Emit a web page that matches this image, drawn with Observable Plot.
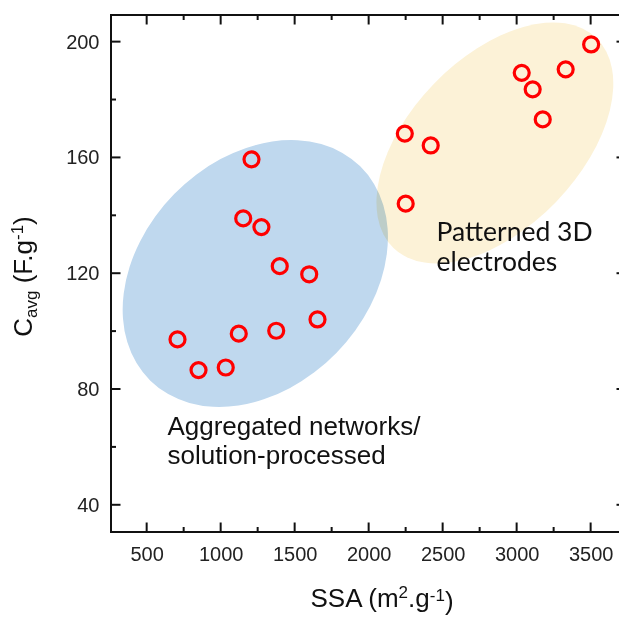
<!DOCTYPE html>
<html>
<head>
<meta charset="utf-8">
<script src="https://cdn.jsdelivr.net/npm/d3@7"></script>
<script src="https://cdn.jsdelivr.net/npm/@observablehq/plot@0.6"></script>
<style>
  html, body { margin: 0; padding: 0; background: #fff; }
  #chart svg { display: block; }
</style>
</head>
<body>
<div id="chart"></div>
<script>
// ---- data ----
const aggregatedSSA = [1205, 1149, 1272, 1396, 1595, 1651, 1372, 1119, 705, 847, 1031];
const aggregatedCap = [159.5, 139.1, 136.1, 122.6, 119.8, 104.2, 100.3, 99.3, 97.3, 86.7, 87.6];
const patternedSSA = [3500, 3328, 3031, 3105, 3173, 2241, 2416, 2247];
const patternedCap = [199.2, 190.6, 189.4, 183.7, 173.3, 168.4, 164.3, 144.2];

const xTicks = [500, 1000, 1500, 2000, 2500, 3000, 3500];
const xMinorTicks = [750, 1250, 1750, 2250, 2750, 3250];
const yTicks = [40, 80, 120, 160, 200];
const yMinorTicks = [60, 100, 140, 180];

const groupNames = ["Aggregated networks/\nsolution-processed", "Patterned 3D\nelectrodes"];
const groupCentreSSA = [1234, 2853];
const groupCentreCap = [119.9, 165.0];
const groupLabelSSA = [637, 2455];
const groupLabelCap = [71.1, 138.6];

const xTitle = ["SSA (m", "2", ".g", "-1", ")"];
const yTitle = ["C", "avg", " (F.g", "-1", ")"];

// ---- tables built from the arrays ----
const points = [
  ...aggregatedSSA.map((v, i) => ({ssa: v, cap: aggregatedCap[i]})),
  ...patternedSSA.map((v, i) => ({ssa: v, cap: patternedCap[i]}))
];
const regions = groupNames.map((name, i) => ({
  name, ssa: groupCentreSSA[i], cap: groupCentreCap[i],
  lx: groupLabelSSA[i], ly: groupLabelCap[i]
}));

// ---- styles ----
const regionStyle = [
  {fill: "#BFD8EE", rx: 150, ry: 113.5, angle: -45.6, blend: "normal"},
  {fill: "#FCF2D7", rx: 146, ry: 85, angle: -46, blend: "multiply"}
];
const labelFonts = ["'Liberation Sans', Arial, sans-serif", "Lato, 'Open Sans', sans-serif"];
const labelSizes = [26, 26.5];
const labelLineHeights = [1.09, 1.12];

function ellipses(index, scales) {
  const g = d3.create("svg:g");
  regions.forEach((r, i) => {
    const s = regionStyle[i];
    const cx = scales.x(r.ssa), cy = scales.y(r.cap);
    g.append("ellipse")
      .attr("cx", 0).attr("cy", 0)
      .attr("rx", s.rx).attr("ry", s.ry)
      .attr("transform", `translate(${cx},${cy}) rotate(${s.angle})`)
      .attr("fill", s.fill)
      .style("mix-blend-mode", s.blend);
  });
  return g.node();
}

function frameAndTicks(index, scales, values, dims) {
  const {width, height, marginTop, marginRight, marginBottom, marginLeft} = dims;
  const x0 = marginLeft, x1 = width - marginRight, y0 = marginTop, y1 = height - marginBottom;
  const g = d3.create("svg:g").attr("stroke", "#111").attr("stroke-width", 2).attr("fill", "none");
  const major = 9.5, minor = 5;
  const line = (a, b, c, d) => g.append("line").attr("x1", a).attr("y1", b).attr("x2", c).attr("y2", d);
  xTicks.forEach(t => { const px = scales.x(t); line(px, y1, px, y1 - major); line(px, y0, px, y0 + major); });
  xMinorTicks.forEach(t => { const px = scales.x(t); line(px, y1, px, y1 - minor); line(px, y0, px, y0 + minor); });
  yTicks.forEach(t => { const py = scales.y(t); line(x0, py, x0 + major, py); line(x1, py, x1 - major, py); });
  yMinorTicks.forEach(t => { const py = scales.y(t); line(x0, py, x0 + minor, py); line(x1, py, x1 - minor, py); });
  g.append("rect").attr("x", x0).attr("y", y0).attr("width", x1 - x0).attr("height", y1 - y0);
  return g.node();
}

function titles(index, scales, values, dims) {
  const {height, marginTop, marginBottom} = dims;
  const g = d3.create("svg:g")
    .attr("font-family", "'Liberation Sans', Arial, sans-serif")
    .attr("font-size", 26).attr("fill", "#111");
  // x title
  const tx = g.append("text").attr("x", 382).attr("y", 607).attr("text-anchor", "middle");
  tx.append("tspan").text(xTitle[0]);
  tx.append("tspan").attr("dy", "-0.55em").attr("font-size", 17).text(xTitle[1]);
  tx.append("tspan").attr("dy", "0.367em").text(xTitle[2]);
  tx.append("tspan").attr("dy", "-0.367em").attr("font-size", 17).text(xTitle[3]);
  tx.append("tspan").attr("dy", "0.367em").text(xTitle[4]);
  // y title
  const ty = g.append("text").attr("text-anchor", "middle")
    .attr("transform", `translate(32,${(marginTop + height - marginBottom) / 2 + 3}) rotate(-90)`);
  ty.append("tspan").text(yTitle[0]);
  ty.append("tspan").attr("dy", "0.3em").attr("font-size", 17).text(yTitle[1]);
  ty.append("tspan").attr("dy", "-0.196em").text(yTitle[2]);
  ty.append("tspan").attr("dy", "-0.55em").attr("font-size", 17).text(yTitle[3]);
  ty.append("tspan").attr("dy", "0.367em").text(yTitle[4]);
  return g.node();
}

const chart = Plot.plot({
  width: 619,
  height: 618,
  marginLeft: 111,
  marginRight: -7,
  marginTop: 15,
  marginBottom: 86,
  style: {background: "#fff", overflow: "hidden"},
  x: {domain: [259, 3739], label: null},
  y: {domain: [30.6, 209.2], label: null},
  marks: [
    ellipses,
    Plot.text([regions[0]], {x: "lx", y: "ly", text: "name", textAnchor: "start", lineAnchor: "top",
      fontFamily: labelFonts[0], fontSize: labelSizes[0], lineHeight: labelLineHeights[0], fill: "#111"}),
    Plot.text([regions[1]], {x: "lx", y: "ly", text: "name", textAnchor: "start", lineAnchor: "top",
      fontFamily: labelFonts[1], fontSize: labelSizes[1], lineHeight: labelLineHeights[1], fill: "#111"}),
    Plot.dot(points, {x: "ssa", y: "cap", r: 7.5, stroke: "#ff0000", strokeWidth: 3.2, fill: "none"}),
    Plot.axisX({ticks: xTicks, tickFormat: d3.format("d"), tickSize: 0, tickPadding: 14.5, fontSize: 20, label: null,
      fontFamily: "'Liberation Sans', Arial, sans-serif", fill: "#222"}),
    Plot.axisY({ticks: yTicks, tickFormat: d3.format("d"), tickSize: 0, tickPadding: 12, fontSize: 20, label: null,
      fontFamily: "'Liberation Sans', Arial, sans-serif", fill: "#222"}),
    frameAndTicks,
    titles
  ]
});
document.getElementById("chart").appendChild(chart);
</script>
</body>
</html>
